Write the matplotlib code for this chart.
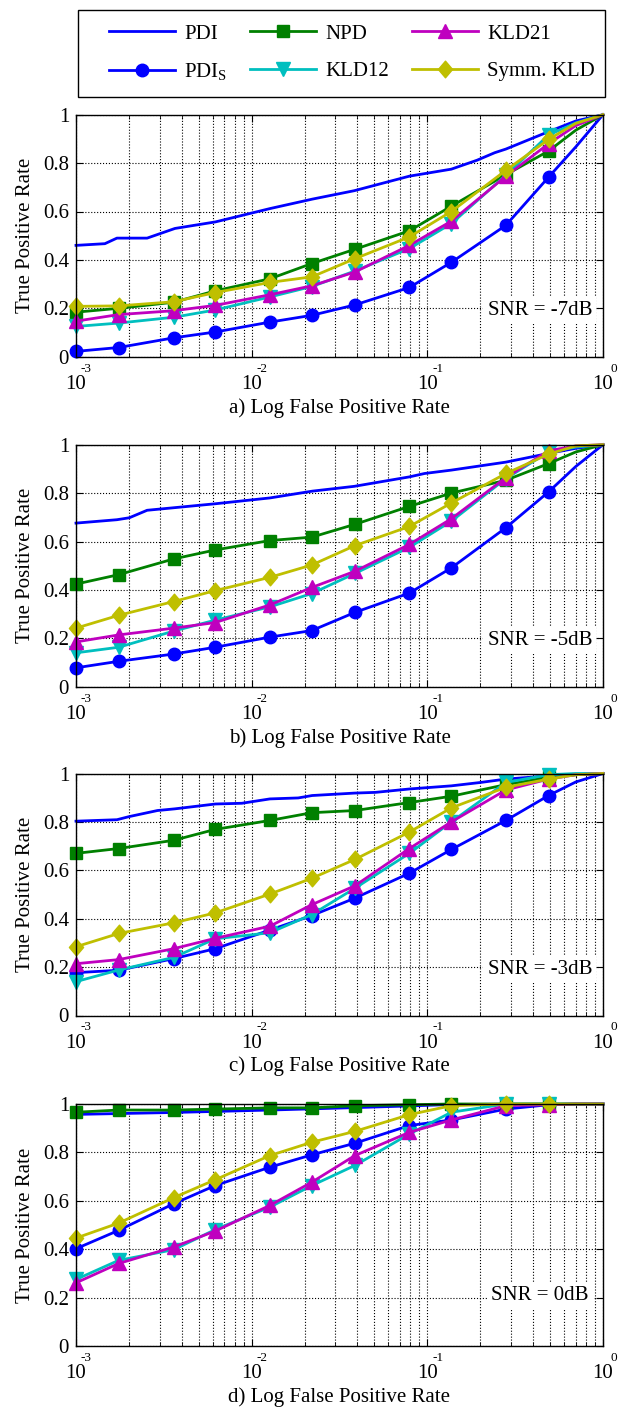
import matplotlib
matplotlib.use('Agg')
import matplotlib.pyplot as plt
from matplotlib.patches import Rectangle
from matplotlib.path import Path
from matplotlib.ticker import LogLocator, NullFormatter

plt.rcParams['font.family'] = ['Liberation Serif', 'DejaVu Serif']
plt.rcParams['mathtext.fontset'] = 'custom'
plt.rcParams['mathtext.rm'] = 'Liberation Serif'
plt.rcParams['mathtext.it'] = 'Liberation Serif:italic'

# false positive rates where the markers sit, then the tail to (1, 1)
fpr = [1.0e-3, 1.75e-3, 3.6e-3, 6.2e-3, 1.27e-2, 2.2e-2, 3.87e-2, 7.9e-2, 0.137, 0.28, 0.49, 0.7, 1.0]
n_marks = 11

panel_labels = ['a) Log False Positive Rate', 'b) Log False Positive Rate',
                'c) Log False Positive Rate', 'd) Log False Positive Rate']
snr_labels = ['SNR = -7dB', 'SNR = -5dB', 'SNR = -3dB', 'SNR = 0dB']

# PDI curve (no markers), own sample points per panel
pdi_x_a = [1e-3, 1.46e-3, 1.71e-3, 2.54e-3, 3.66e-3, 6.22e-3, 1.27e-2, 2.21e-2, 3.84e-2,
           7.9e-2, 0.137, 0.192, 0.242, 0.28, 0.49, 0.7, 1.0]
pdi_y_a = [0.46, 0.467, 0.49, 0.49, 0.53, 0.557, 0.612, 0.651, 0.686,
           0.746, 0.775, 0.812, 0.843, 0.858, 0.93, 0.974, 1.0]
pdi_x_b = [1e-3, 1.71e-3, 2.01e-3, 2.54e-3, 3.66e-3, 6.22e-3, 1.27e-2, 2.21e-2, 3.84e-2,
           7.9e-2, 0.0964, 0.137, 0.28, 0.49, 0.7, 1.0]
pdi_y_b = [0.676, 0.69, 0.698, 0.729, 0.74, 0.756, 0.78, 0.808, 0.828,
           0.867, 0.881, 0.895, 0.928, 0.964, 0.985, 1.0]
pdi_x_c = [1e-3, 1.71e-3, 2.01e-3, 2.91e-3, 3.66e-3, 6.22e-3, 8.79e-3, 1.27e-2, 1.84e-2,
           2.21e-2, 3.84e-2, 5.06e-2, 7.9e-2, 0.137, 0.201, 0.28, 0.49, 1.0]
pdi_y_c = [0.803, 0.809, 0.822, 0.847, 0.854, 0.874, 0.877, 0.895, 0.899,
           0.909, 0.919, 0.922, 0.936, 0.949, 0.963, 0.977, 0.99, 1.0]
pdi_x_d = [1e-3, 3.6e-3, 1.27e-2, 3.84e-2, 7.9e-2, 0.137, 1.0]
pdi_y_d = [0.957, 0.965, 0.975, 0.985, 0.992, 0.998, 1.0]

pdis_a = [0.022, 0.038, 0.078, 0.102, 0.143, 0.171, 0.214, 0.286, 0.39, 0.543, 0.742, 0.867, 1.0]
npd_a = [0.184, 0.2, 0.225, 0.272, 0.322, 0.385, 0.444, 0.52, 0.622, 0.752, 0.85, 0.936, 1.0]
kld12_a = [0.125, 0.139, 0.163, 0.193, 0.247, 0.29, 0.354, 0.447, 0.55, 0.75, 0.916, 0.966, 1.0]
kld21_a = [0.147, 0.174, 0.19, 0.212, 0.256, 0.293, 0.35, 0.46, 0.56, 0.746, 0.88, 0.955, 1.0]
symm_a = [0.208, 0.21, 0.227, 0.265, 0.307, 0.33, 0.405, 0.495, 0.6, 0.77, 0.898, 0.964, 1.0]

pdis_b = [0.078, 0.105, 0.135, 0.163, 0.205, 0.232, 0.307, 0.387, 0.491, 0.657, 0.805, 0.91, 1.0]
npd_b = [0.424, 0.463, 0.528, 0.565, 0.604, 0.618, 0.671, 0.745, 0.8, 0.853, 0.922, 0.97, 1.0]
kld12_b = [0.14, 0.163, 0.23, 0.275, 0.33, 0.385, 0.468, 0.576, 0.684, 0.86, 0.97, 0.99, 1.0]
kld21_b = [0.185, 0.214, 0.242, 0.265, 0.338, 0.41, 0.477, 0.588, 0.694, 0.864, 0.975, 0.995, 1.0]
symm_b = [0.242, 0.295, 0.352, 0.397, 0.452, 0.503, 0.583, 0.662, 0.759, 0.881, 0.961, 0.995, 1.0]

pdis_c = [0.177, 0.187, 0.235, 0.276, 0.353, 0.413, 0.485, 0.588, 0.686, 0.806, 0.909, 0.965, 1.0]
npd_c = [0.67, 0.69, 0.724, 0.769, 0.806, 0.838, 0.847, 0.88, 0.906, 0.954, 0.984, 0.995, 1.0]
kld12_c = [0.14, 0.188, 0.24, 0.317, 0.342, 0.417, 0.526, 0.67, 0.8, 0.963, 0.995, 1.0, 1.0]
kld21_c = [0.214, 0.231, 0.276, 0.319, 0.369, 0.458, 0.536, 0.69, 0.8, 0.932, 0.977, 0.995, 1.0]
symm_c = [0.284, 0.339, 0.383, 0.424, 0.502, 0.567, 0.645, 0.758, 0.858, 0.943, 0.977, 0.995, 1.0]

pdis_d = [0.402, 0.478, 0.588, 0.663, 0.739, 0.79, 0.838, 0.911, 0.934, 0.979, 0.997, 1.0, 1.0]
npd_d = [0.966, 0.975, 0.975, 0.979, 0.984, 0.984, 0.993, 0.997, 1.0, 1.0, 1.0, 1.0, 1.0]
kld12_d = [0.275, 0.354, 0.398, 0.481, 0.574, 0.663, 0.746, 0.876, 0.966, 1.0, 1.0, 1.0, 1.0]
kld21_d = [0.261, 0.341, 0.409, 0.475, 0.581, 0.677, 0.787, 0.883, 0.934, 0.993, 0.997, 1.0, 1.0]
symm_d = [0.446, 0.508, 0.613, 0.687, 0.787, 0.842, 0.887, 0.956, 0.993, 1.0, 1.0, 1.0, 1.0]

xticks = [1e-3, 1e-2, 1e-1, 1.0]
xtick_labels = ['10', '10', '10', '10']
xtick_exps = ['-3', '-2', '-1', '0']
yticks = [0, 0.2, 0.4, 0.6, 0.8, 1.0]
ytick_labels = ['0', '0.2', '0.4', '0.6', '0.8', '1']

snr_y = [0.19, 0.19, 0.19, 0.21]

BLUE = (0, 0, 1)
GREEN = (0, 0.5, 0)
CYAN = (0, 0.75, 0.75)
MAGENTA = (0.75, 0, 0.75)
OLIVE = (0.75, 0.75, 0)

# MATLAB style diamond, a bit narrower than tall
diamond = Path([(0, 1), (0.85, 0), (0, -1), (-0.85, 0), (0, 1)],
               [Path.MOVETO, Path.LINETO, Path.LINETO, Path.LINETO, Path.CLOSEPOLY])


def draw_panel(ax, pdi_x, pdi_y, pdis, npd, kld12, kld21, symm, xlabel, snr, sy):
    lw = 2.0
    me = list(range(n_marks))
    ax.plot(pdi_x, pdi_y, color=BLUE, lw=lw, label='PDI', clip_on=False)
    ax.plot(fpr, pdis, color=BLUE, lw=lw, marker='o', ms=9, markevery=me,
            label=r'PDI$_{\rm S}$', clip_on=False)
    ax.plot(fpr, npd, color=GREEN, lw=lw, marker='s', ms=8.5, markevery=me,
            label='NPD', clip_on=False)
    ax.plot(fpr, kld12, color=CYAN, lw=lw, marker='v', ms=10.5, markevery=me,
            label='KLD12', clip_on=False)
    ax.plot(fpr, kld21, color=MAGENTA, lw=lw, marker='^', ms=10.5, markevery=me,
            label='KLD21', clip_on=False)
    ax.plot(fpr, symm, color=OLIVE, lw=lw, marker=diamond, ms=12, markevery=me,
            label='Symm. KLD', clip_on=False)

    ax.set_xscale('log')
    ax.set_xlim(1e-3, 1.0)
    ax.set_ylim(0, 1)
    ax.set_xticks(xticks)
    ax.set_xticklabels(xtick_labels)
    ax.xaxis.set_minor_locator(LogLocator(base=10, subs=range(2, 10)))
    ax.xaxis.set_minor_formatter(NullFormatter())
    ax.set_yticks(yticks)
    ax.set_yticklabels(ytick_labels)

    # exponents sit small and high, to the right of each "10"
    for t, e in zip(xticks, xtick_exps):
        ax.annotate(e, xy=(t, 0), xycoords=ax.get_xaxis_transform(),
                    xytext=(7.5, -8.5), textcoords='offset points',
                    ha='center', va='center', fontsize=9.5, annotation_clip=False)

    ax.grid(True, which='major', ls=':', color='k', lw=0.8)
    ax.grid(True, which='minor', axis='x', ls=':', color='k', lw=0.8)
    ax.set_axisbelow(True)
    ax.tick_params(which='both', direction='in', top=True, right=True, labelsize=15)
    ax.tick_params(axis='y', pad=5)
    ax.tick_params(axis='x', pad=13)
    ax.tick_params(which='major', length=5)
    ax.tick_params(which='minor', length=3)
    for s in ax.spines.values():
        s.set_linewidth(1.0)

    ax.set_xlabel(xlabel, fontsize=15, labelpad=3)
    ax.set_ylabel('True Positive Rate', fontsize=15, labelpad=6)
    ax.text(0.88, sy, snr, transform=ax.transAxes, ha='center', va='center',
            fontsize=15, zorder=5,
            bbox=dict(facecolor='white', edgecolor='none', pad=3))


def main():
    fig = plt.figure(figsize=(6.19, 14.12), dpi=100)
    left = 76 / 619
    width = (603 - 76) / 619
    height = 242 / 1412
    bottoms = [1 - 356.7 / 1412, 1 - 686.7 / 1412, 1 - 1015.5 / 1412, 1 - 1346 / 1412]

    panels = [
        (pdi_x_a, pdi_y_a, pdis_a, npd_a, kld12_a, kld21_a, symm_a),
        (pdi_x_b, pdi_y_b, pdis_b, npd_b, kld12_b, kld21_b, symm_b),
        (pdi_x_c, pdi_y_c, pdis_c, npd_c, kld12_c, kld21_c, symm_c),
        (pdi_x_d, pdi_y_d, pdis_d, npd_d, kld12_d, kld21_d, symm_d),
    ]
    axes = []
    for i, data in enumerate(panels):
        ax = fig.add_axes([left, bottoms[i], width, height])
        draw_panel(ax, *data, panel_labels[i], snr_labels[i], snr_y[i])
        axes.append(ax)

    # legend entries spread across the top box, frame drawn separately
    handles, labels = axes[0].get_legend_handles_labels()
    fig.legend(handles, labels, ncol=3, loc='upper left',
               bbox_to_anchor=(109 / 619, 1 - 24 / 1412, (595 - 109) / 619, 0),
               mode='expand', borderaxespad=0, borderpad=0, fontsize=15,
               frameon=False, handlelength=3.15, handletextpad=0.45,
               labelspacing=0.85)
    fig.add_artist(Rectangle((78 / 619, 1 - 97 / 1412), 527 / 619, 87 / 1412,
                             transform=fig.transFigure, fill=False,
                             edgecolor='k', lw=1.0))

    fig.savefig('out.png', dpi=100)
    plt.close(fig)


if __name__ == '__main__':
    main()
